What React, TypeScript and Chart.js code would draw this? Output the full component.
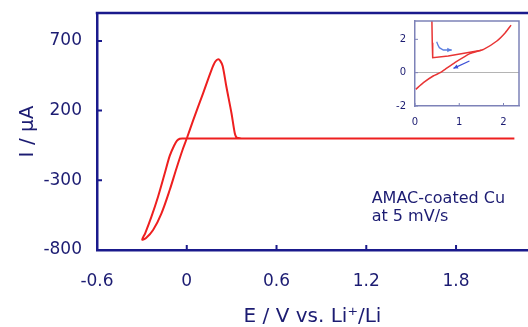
import React, { useEffect, useRef } from "react";
import { Chart, registerables } from "chart.js";

Chart.register(...registerables);

// ---- main cyclic voltammogram ----
const cvPotential = [
  2.19, 1.2, 0.4, -0.03, -0.047, -0.065, -0.085, -0.114, -0.147, -0.192, -0.236, -0.278,
  -0.298, -0.272, -0.225, -0.169, -0.114, -0.069, -0.025, 0, 0.042, 0.109, 0.165, 0.19,
  0.21, 0.225, 0.24, 0.265, 0.299, 0.321, 0.332, 0.345, 0.366, 2.19,
];
const cvCurrent = [
  0, 0, 0, 0, -2, -15, -52, -125, -250, -418, -561, -680,
  -726, -714, -657, -537, -370, -215, -72, 0, 128, 324, 491, 550,
  568, 555, 520, 371, 181, 37, 8, 3, 0, 0,
];
const xTicks = [-0.6, 0, 0.6, 1.2, 1.8];
const xTickLabels = ["-0.6", "0", "0.6", "1.2", "1.8"];
const yTicks = [-800, -300, 200, 700];
const yTickLabels = ["-800", "-300", "200", "700"];
const noteLines = ["AMAC-coated Cu", "at 5 mV/s"];
const noteE = 1.236;
const noteI = [-431, -563];

// ---- inset ----
const insetLowerE = [0.02, 0.19, 0.41, 0.57, 0.68, 0.9, 1.24, 1.55, 1.85, 2.04, 2.17];
const insetLowerI = [-1.0, -0.6, -0.2, 0, 0.2, 0.6, 1.14, 1.4, 1.9, 2.4, 2.85];
const insetUpperE = [0.38, 0.39, 0.4, 0.75, 1.24, 1.5];
const insetUpperI = [3.4, 1.8, 0.9, 1.0, 1.23, 1.34];
const insetXTicks = [0, 1, 2];
const insetYTicks = [-2, 0, 2];
const arrowCurvedE = [0.49, 0.52, 0.55, 0.64, 0.83];
const arrowCurvedI = [1.86, 1.65, 1.5, 1.36, 1.36];
const arrowStraightE = [1.23, 0.87];
const arrowStraightI = [0.7, 0.26];

const AXIS = "#1a1a8c";
const TEXT = "#1c1c72";
const RED = "#ee1f1f";
const FONT = '"DejaVu Sans", sans-serif';

function zeroPad(s: any) {
  s.paddingTop = 0;
  s.paddingBottom = 0;
  s.paddingLeft = 0;
  s.paddingRight = 0;
}

const mainDecor = {
  id: "mainDecor",
  afterDraw(chart: any) {
    const { ctx, chartArea, scales } = chart;
    const xs = scales.x;
    const ys = scales.y;
    ctx.save();
    ctx.strokeStyle = AXIS;
    ctx.lineWidth = 2.5;
    ctx.beginPath();
    ctx.moveTo(chartArea.left - 1.25, chartArea.top);
    ctx.lineTo(chartArea.right, chartArea.top);
    ctx.stroke();
    ctx.lineWidth = 2;
    ctx.beginPath();
    xTicks.forEach((v) => {
      const px = xs.getPixelForValue(v);
      ctx.moveTo(px, chartArea.bottom);
      ctx.lineTo(px, chartArea.bottom - 5);
    });
    yTicks.forEach((v) => {
      const py = ys.getPixelForValue(v);
      ctx.moveTo(chartArea.left, py);
      ctx.lineTo(chartArea.left + 5, py);
    });
    ctx.stroke();
    ctx.fillStyle = TEXT;
    ctx.font = "16px " + FONT;
    ctx.textBaseline = "middle";
    ctx.textAlign = "left";
    noteLines.forEach((t, i) => {
      ctx.fillText(t, xs.getPixelForValue(noteE), ys.getPixelForValue(noteI[i]));
    });
    ctx.restore();
  },
};

function drawArrow(ctx: any, xs: any, ys: any, es: number[], is: number[], color: string) {
  const pts = es.map((e, k) => [xs.getPixelForValue(e), ys.getPixelForValue(is[k])]);
  ctx.strokeStyle = color;
  ctx.fillStyle = color;
  ctx.lineWidth = 1.3;
  ctx.beginPath();
  ctx.moveTo(pts[0][0], pts[0][1]);
  for (let k = 1; k < pts.length; k++) ctx.lineTo(pts[k][0], pts[k][1]);
  ctx.stroke();
  const a = pts[pts.length - 2];
  const b = pts[pts.length - 1];
  const ang = Math.atan2(b[1] - a[1], b[0] - a[0]);
  const L = 5;
  ctx.beginPath();
  ctx.moveTo(b[0], b[1]);
  ctx.lineTo(b[0] - L * Math.cos(ang - 0.45), b[1] - L * Math.sin(ang - 0.45));
  ctx.lineTo(b[0] - L * Math.cos(ang + 0.45), b[1] - L * Math.sin(ang + 0.45));
  ctx.closePath();
  ctx.fill();
}

const INSET_FRAME = "#7d82b8";

const insetDecor = {
  id: "insetDecor",
  afterDraw(chart: any) {
    const { ctx, chartArea, scales } = chart;
    const xs = scales.x;
    const ys = scales.y;
    ctx.save();
    ctx.strokeStyle = INSET_FRAME;
    ctx.lineWidth = 1.5;
    ctx.beginPath();
    ctx.moveTo(chartArea.left, chartArea.top);
    ctx.lineTo(chartArea.right, chartArea.top);
    ctx.lineTo(chartArea.right, chartArea.bottom);
    ctx.stroke();
    ctx.lineWidth = 1;
    ctx.beginPath();
    insetXTicks.forEach((v) => {
      const px = xs.getPixelForValue(v);
      ctx.moveTo(px, chartArea.bottom);
      ctx.lineTo(px, chartArea.bottom - 3);
    });
    insetYTicks.forEach((v) => {
      const py = ys.getPixelForValue(v);
      ctx.moveTo(chartArea.left, py);
      ctx.lineTo(chartArea.left + 3, py);
    });
    ctx.stroke();
    drawArrow(ctx, xs, ys, arrowCurvedE, arrowCurvedI, "#5c7fe0");
    drawArrow(ctx, xs, ys, arrowStraightE, arrowStraightI, "#3d50d6");
    ctx.restore();
  },
};

export default function App() {
  const mainRef = useRef<HTMLCanvasElement | null>(null);
  const insetRef = useRef<HTMLCanvasElement | null>(null);

  useEffect(() => {
    const main = new Chart(mainRef.current as HTMLCanvasElement, {
      type: "scatter",
      data: {
        datasets: [
          {
            data: cvPotential.map((e, i) => ({ x: e, y: cvCurrent[i] })),
            showLine: true,
            borderColor: RED,
            borderWidth: 2,
            pointRadius: 0,
            tension: 0.3,
          },
        ],
      },
      options: {
        animation: false,
        responsive: false,
        layout: { padding: { left: 0, right: 0, top: 13, bottom: 0 } },
        plugins: { legend: { display: false }, tooltip: { enabled: false } },
        scales: {
          x: {
            type: "linear",
            min: -0.6,
            max: 2.281,
            afterFit: (s: any) => {
              s.height = 77;
              zeroPad(s);
            },
            afterBuildTicks: (s: any) => {
              s.ticks = xTicks.map((v) => ({ value: v }));
            },
            grid: { display: false, drawTicks: false },
            border: { display: true, color: AXIS, width: 2.5 },
            ticks: {
              color: TEXT,
              font: { family: FONT, size: 17 },
              padding: 21,
              maxRotation: 0,
              autoSkip: false,
              callback: (v: any) => {
                const k = xTicks.findIndex((t) => Math.abs(t - v) < 1e-9);
                return k >= 0 ? xTickLabels[k] : "";
              },
            },
            title: {
              display: true,
              text: "E / V vs. Li\u207A/Li",
              color: TEXT,
              font: { family: FONT, size: 20, lineHeight: 1 },
              padding: { top: 0, bottom: 0 },
            },
          },
          y: {
            type: "linear",
            min: -800,
            max: 900,
            afterFit: (s: any) => {
              s.width = 97;
              zeroPad(s);
            },
            afterBuildTicks: (s: any) => {
              s.ticks = yTicks.map((v) => ({ value: v }));
            },
            grid: { display: false, drawTicks: false },
            border: { display: true, color: AXIS, width: 2.5 },
            ticks: {
              color: TEXT,
              font: { family: FONT, size: 17 },
              padding: 15,
              autoSkip: false,
              callback: (v: any) => {
                const k = yTicks.findIndex((t) => Math.abs(t - v) < 1e-9);
                return k >= 0 ? yTickLabels[k] : "";
              },
            },
            title: {
              display: true,
              text: "I / \u03BCA",
              color: TEXT,
              font: { family: FONT, size: 20, lineHeight: 1 },
              padding: { top: 18, bottom: 0 },
            },
          },
        },
      } as any,
      plugins: [mainDecor],
    });

    const inset = new Chart(insetRef.current as HTMLCanvasElement, {
      type: "scatter",
      data: {
        datasets: [
          {
            data: insetLowerE.map((e, i) => ({ x: e, y: insetLowerI[i] })),
            showLine: true,
            borderColor: "#e83434",
            borderWidth: 1.5,
            pointRadius: 0,
            tension: 0.2,
          },
          {
            data: insetUpperE.map((e, i) => ({ x: e, y: insetUpperI[i] })),
            showLine: true,
            borderColor: "#e83434",
            borderWidth: 1.5,
            pointRadius: 0,
            tension: 0,
          },
        ],
      },
      options: {
        animation: false,
        responsive: false,
        layout: { padding: { left: 0, right: 6, top: 8, bottom: 0 } },
        plugins: { legend: { display: false }, tooltip: { enabled: false } },
        scales: {
          x: {
            type: "linear",
            min: 0,
            max: 2.35,
            afterFit: (s: any) => {
              s.height = 29;
              zeroPad(s);
            },
            afterBuildTicks: (s: any) => {
              s.ticks = insetXTicks.map((v) => ({ value: v }));
            },
            grid: { display: false, drawTicks: false },
            border: { display: true, color: INSET_FRAME, width: 1.5 },
            ticks: {
              color: TEXT,
              font: { family: FONT, size: 10 },
              padding: 10,
              maxRotation: 0,
              autoSkip: false,
            },
          },
          y: {
            type: "linear",
            min: -2,
            max: 3.1,
            afterFit: (s: any) => {
              s.width = 23;
              zeroPad(s);
            },
            afterBuildTicks: (s: any) => {
              s.ticks = insetYTicks.map((v) => ({ value: v }));
            },
            grid: {
              display: true,
              drawTicks: false,
              color: (c: any) => (c.tick && c.tick.value === 0 ? "#b4b4b4" : "rgba(0,0,0,0)"),
              lineWidth: 1,
            },
            border: { display: true, color: INSET_FRAME, width: 1.5 },
            ticks: {
              color: TEXT,
              font: { family: FONT, size: 10 },
              padding: 9,
              autoSkip: false,
            },
          },
        },
      } as any,
      plugins: [insetDecor],
    });

    return () => {
      main.destroy();
      inset.destroy();
    };
  }, []);

  return (
    <div style={{ position: "fixed", left: 0, top: 0, width: 528, height: 327, background: "#fff" }}>
      <canvas ref={mainRef} width={528} height={327} style={{ position: "absolute", left: 0, top: 0 }} />
      <canvas
        ref={insetRef}
        width={133}
        height={122}
        style={{ position: "absolute", left: 392, top: 13 }}
      />
    </div>
  );
}
